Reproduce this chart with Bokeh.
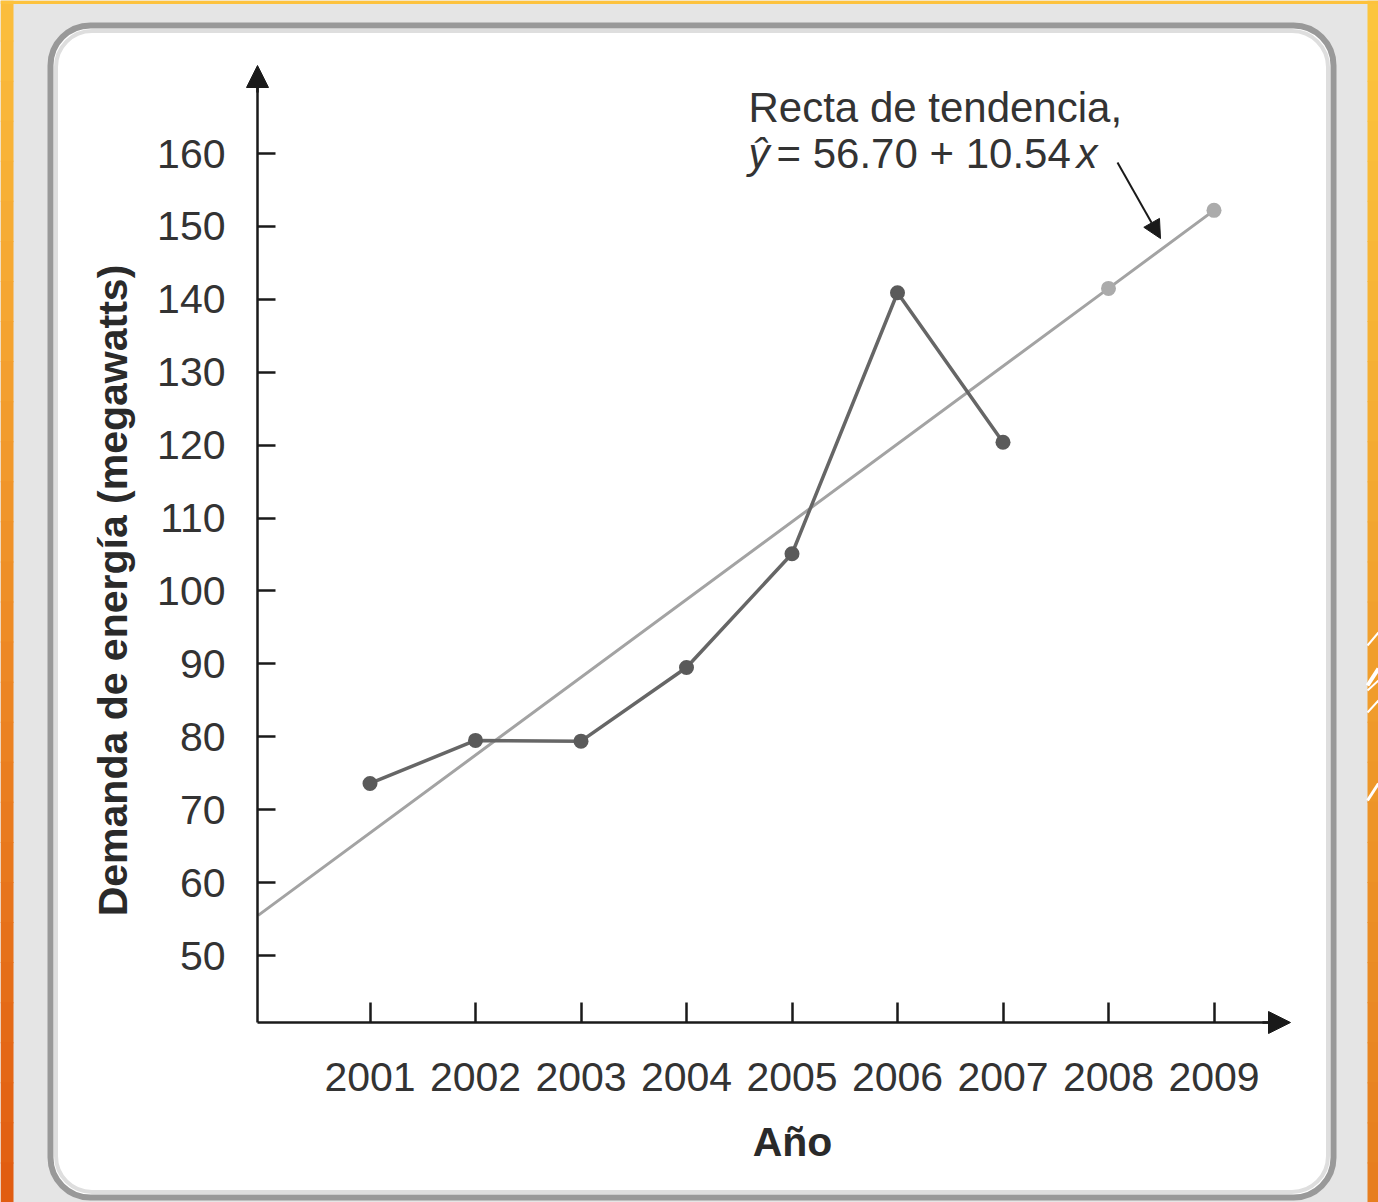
import math
from bokeh.plotting import figure
from bokeh.models import (Range1d, LinearAxis, FixedTicker, Label, Arrow,
                          NormalHead, BoxAnnotation)
from bokeh.embed import file_html
from bokeh.resources import INLINE

# ---------------- data ----------------
years = [2001, 2002, 2003, 2004, 2005, 2006, 2007]
demand = [73.6, 79.5, 79.4, 89.5, 105.1, 140.9, 120.4]
trend_years = [1999.94, 2008, 2009]
trend_values = [55.5, 141.5, 152.2]
forecast_years = [2008, 2009]
forecast_values = [141.5, 152.2]
x_ticks = [2001, 2002, 2003, 2004, 2005, 2006, 2007, 2008, 2009]
y_ticks = [50, 60, 70, 80, 90, 100, 110, 120, 130, 140, 150, 160]

W, H = 1378, 1202
PPX = 105.5                 # pixels per year
PPY = 802.0 / 110.0         # pixels per MW
X0 = 2001 - 369.5 / PPX
X1 = X0 + W / PPX
Y1 = 160 + 153 / PPY
Y0 = Y1 - H / PPY


def px2x(px):
    return X0 + px / PPX


def px2y(py):
    return Y1 - py / PPY


FONT = "Liberation Sans"

p = figure(width=W, height=H, x_range=Range1d(X0, X1), y_range=Range1d(Y0, Y1),
           min_border=0, toolbar_location=None, output_backend="svg",
           x_axis_type=None, y_axis_type=None)
p.background_fill_color = "#e5e5e5"
p.border_fill_color = "#e5e5e5"
p.outline_line_color = None

# ---------------- background decoration ----------------
def lerp(c1, c2, t):
    a = [int(c1[i:i + 2], 16) for i in (1, 3, 5)]
    b = [int(c2[i:i + 2], 16) for i in (1, 3, 5)]
    return "#%02x%02x%02x" % tuple(round(a[k] + (b[k] - a[k]) * t) for k in range(3))

n = 30
for i in range(n):
    t0, t1 = i / n, (i + 1) / n
    top_px, bot_px = t0 * H, t1 * H + 1
    p.add_layout(BoxAnnotation(left=px2x(0), right=px2x(13), top=px2y(top_px), bottom=px2y(bot_px),
                               fill_color=lerp("#fbbd3c", "#e05a10", t0), fill_alpha=1,
                               line_color=None, level="image"))
    p.add_layout(BoxAnnotation(left=px2x(1367), right=px2x(W), top=px2y(top_px), bottom=px2y(bot_px),
                               fill_color=lerp("#fcc53d", "#e67c1e", t0), fill_alpha=1,
                               line_color=None, level="image"))
p.add_layout(BoxAnnotation(left=px2x(0), right=px2x(W), top=px2y(0), bottom=px2y(3.5),
                           fill_color="#fdc23d", fill_alpha=1, line_color=None, level="image"))
# white stripes on right strip
for (xa, ya, xb, yb, lw) in [(1367, 645, 1378, 632, 2), (1367, 685, 1378, 668, 4),
                             (1367, 690, 1378, 680, 2), (1367, 712, 1378, 700, 2),
                             (1367, 800, 1378, 783, 3)]:
    p.segment(x0=[px2x(xa)], y0=[px2y(ya)], x1=[px2x(xb)], y1=[px2y(yb)],
              line_color="white", line_width=lw)

# rounded white panel
p.add_layout(BoxAnnotation(left=px2x(50), right=px2x(1333), top=px2y(25), bottom=px2y(1197),
                           fill_color="white", fill_alpha=1, line_color="#999999",
                           line_alpha=1, line_width=6, border_radius=40, level="image"))
p.add_layout(BoxAnnotation(left=px2x(55.5), right=px2x(1327.5), top=px2y(30.5), bottom=px2y(1191.5),
                           fill_alpha=0, line_color="#dedede", line_alpha=1, line_width=4,
                           border_radius=36, level="image"))

# ---------------- series ----------------
p.line(trend_years, trend_values, line_color="#a3a3a3", line_width=3)
p.scatter(forecast_years, forecast_values, size=15, fill_color="#ababab", line_color=None)
p.line(years, demand, line_color="#666666", line_width=3.5)
p.scatter(years, demand, size=15, fill_color="#5a5a5a", line_color=None)

# ---------------- axes ----------------
axis_x = px2x(257)
axis_y = px2y(1022)

yaxis = LinearAxis(fixed_location=axis_x, ticker=FixedTicker(ticks=y_ticks),
                   bounds=(axis_y, px2y(80)))
xaxis = LinearAxis(fixed_location=axis_y, ticker=FixedTicker(ticks=x_ticks),
                   bounds=(axis_x, px2x(1275)))
for ax, tin, stand in ((yaxis, 18, 32), (xaxis, 20, 40)):
    ax.axis_line_color = "#1a1a1a"
    ax.axis_line_width = 2.5
    ax.major_tick_line_color = "#1a1a1a"
    ax.major_tick_line_width = 2.5
    ax.major_tick_in = tin
    ax.major_tick_out = 0
    ax.minor_tick_line_color = None
    ax.major_label_standoff = stand
    ax.major_label_text_font = FONT
    ax.major_label_text_font_size = "41px"
    ax.major_label_text_color = "#333333"
p.add_layout(yaxis, "left")
p.add_layout(xaxis, "below")

# axis arrow heads
p.add_layout(Arrow(end=NormalHead(size=22, fill_color="#1a1a1a", line_color="#1a1a1a"),
                   x_start=axis_x, y_start=px2y(92), x_end=axis_x, y_end=px2y(65),
                   line_color="#1a1a1a", line_width=2.5))
p.add_layout(Arrow(end=NormalHead(size=22, fill_color="#1a1a1a", line_color="#1a1a1a"),
                   x_start=px2x(1262), y_start=axis_y, x_end=px2x(1290), y_end=axis_y,
                   line_color="#1a1a1a", line_width=2.5))

# axis titles
p.add_layout(Label(x=px2x(112), y=px2y(590), text="Demanda de energía (megawatts)",
                   angle=math.pi / 2, text_align="center", text_baseline="alphabetic",
                   text_font=FONT, text_font_style="bold", text_font_size="41px",
                   text_color="#2a2a2a"))
p.add_layout(Label(x=px2x(792), y=px2y(1141), text="Año", text_align="center",
                   text_baseline="alphabetic", text_font=FONT, text_font_style="bold",
                   text_font_size="41px", text_color="#2a2a2a"))

# trend annotation
p.add_layout(Label(x=px2x(748), y=px2y(107), text="Recta de tendencia,",
                   text_baseline="alphabetic", text_font=FONT, text_font_size="42px",
                   text_color="#333333"))
p.add_layout(Label(x=px2x(748), y=px2y(153), text="ŷ", text_baseline="alphabetic",
                   text_font=FONT, text_font_style="italic", text_font_size="42px",
                   text_color="#333333"))
p.add_layout(Label(x=px2x(776), y=px2y(153), text="= 56.70 + 10.54",
                   text_baseline="alphabetic", text_font=FONT, text_font_size="42px",
                   text_color="#333333"))
p.add_layout(Label(x=px2x(1076), y=px2y(153), text="x", text_baseline="alphabetic",
                   text_font=FONT, text_font_style="italic", text_font_size="42px",
                   text_color="#333333"))
p.add_layout(Arrow(end=NormalHead(size=18, fill_color="#1a1a1a", line_color="#1a1a1a"),
                   x_start=px2x(1117), y_start=px2y(162), x_end=px2x(1160), y_end=px2y(238),
                   line_color="#1a1a1a", line_width=2))

open("out.html", "w").write(file_html(p, INLINE))
